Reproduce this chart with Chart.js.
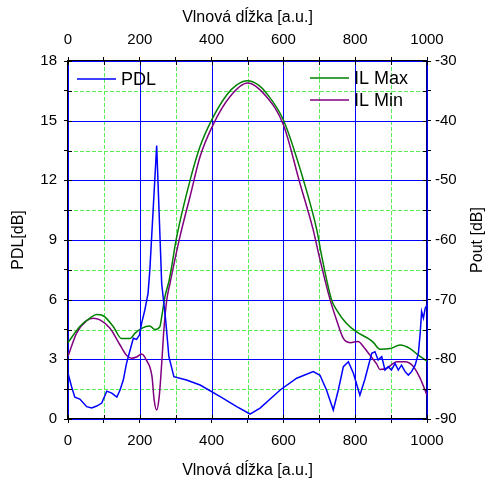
<!DOCTYPE html>
<html>
<head>
<meta charset="utf-8">
<script src="https://cdn.jsdelivr.net/npm/chart.js@4.4.0/dist/chart.umd.min.js"></script>
<style>
  html, body { margin: 0; padding: 0; background: #fff; }
  canvas { display: block; }
</style>
</head>
<body>
<canvas id="chart" width="487" height="481"></canvas>
<script>
// PDL [dB] (left axis)
const pdlX = [0, 10, 19, 33, 52, 66, 80, 94, 108, 122, 136, 145, 154, 163, 173, 182, 191, 199, 205, 214, 223, 228,
  247, 261, 272, 281, 295, 330, 368, 424, 470, 507, 535, 591, 637, 683, 702, 720, 739, 753, 767, 781, 795,
  813, 827, 846, 855, 864, 874, 883, 892, 901, 911, 920, 929, 939, 948, 957, 967, 976, 981, 985, 990, 995, 1000];
const pdlY = [2.3, 1.62, 1.1, 1.0, 0.62, 0.55, 0.65, 0.8, 1.4, 1.3, 1.1, 1.46, 1.96, 2.8, 3.47, 4.06, 4.0, 4.22, 4.81, 5.48, 6.32, 7.5,
  13.75, 6.8, 4.98, 3.13, 2.13, 1.96, 1.71, 1.12, 0.62, 0.25, 0.55, 1.46, 2.05, 2.38, 2.2, 1.46, 0.45, 1.46, 2.63, 2.88, 2.3,
  1.2, 2.0, 3.3, 3.38, 2.97, 3.13, 2.46, 2.63, 2.46, 2.8, 2.46, 2.71, 2.38, 2.21, 2.38, 2.71, 3.3, 4.31, 5.4, 5.07, 5.57, 5.73];

// IL Max, Pout [dB] (right axis)
const ilMaxX = [0, 33, 61, 80, 98, 126, 149, 173, 187, 205, 228, 242, 256, 261, 270, 282, 303, 340, 368, 400, 442, 470,
  500, 530, 553, 600, 656, 693, 707, 734, 748, 776, 804, 841, 851, 869, 897, 925, 953, 976, 1000];
const ilMaxY = [-77.2, -74.5, -73.1, -72.5, -72.7, -74.5, -76.5, -76.5, -75.6, -74.8, -74.4, -75.0, -74.5, -72.9, -69.5, -66.7, -59.4, -50.0, -44.3, -39.9, -35.7, -34.0,
  -33.3, -34.0, -35.4, -39.9, -50.0, -58.3, -62.8, -70.0, -71.7, -74.0, -75.4, -76.7, -77.2, -78.3, -78.2, -77.6, -78.2, -79.3, -80.3];

// IL Min, Pout [dB] (right axis)
const ilMinX = [0, 24, 52, 71, 89, 117, 145, 163, 177, 191, 205, 218, 234, 240, 247, 254, 261, 267, 275, 284, 312, 340, 368, 404,
  451, 500, 553, 600, 646, 683, 700, 730, 748, 767, 786, 808, 827, 841, 860, 869, 888, 916, 939, 962, 981, 1000];
const ilMinY = [-79.5, -75.6, -73.5, -73.1, -73.4, -74.8, -77.6, -79.3, -79.8, -79.6, -79.1, -80.1, -82.9, -86.8, -88.5, -86.3, -80.7, -75.1, -70.1, -67.3, -59.4, -52.7, -46.0, -40.7,
  -36.0, -33.7, -36.0, -40.7, -50.5, -58.3, -62.8, -70.0, -73.4, -76.5, -77.2, -77.0, -78.2, -79.3, -80.8, -81.7, -81.5, -80.4, -80.4, -81.2, -83.2, -86.0];

const seriesLabels = ['PDL', 'IL Max', 'IL Min'];
const seriesColors = ['#0000ff', '#008000', '#800080'];
const xTitle = 'Vlnová dĺžka [a.u.]';
const yTitle = 'PDL[dB]';
const y2Title = 'Pout [dB]';

const toPoints = (xs, ys) => xs.map((x, i) => ({x: x, y: ys[i]}));
const FAMILY = 'Liberation Sans, Arial, sans-serif';
const FONT = {family: FAMILY, size: 15};
const TITLE_FONT = {family: FAMILY, size: 16};

// grid lines drawn per tick: blue for labelled ticks, green dashed for the minor ones
const gridPlugin = {
  id: 'gridLines',
  beforeDatasetsDraw(chart) {
    const {ctx, chartArea: a, scales} = chart;
    ctx.save();
    ctx.lineWidth = 1;
    const vert = (s, major) => s.ticks.forEach(t => {
      if (t.major !== major) return;
      const p = Math.round(s.getPixelForValue(t.value)) + 0.5;
      ctx.beginPath(); ctx.moveTo(p, a.top); ctx.lineTo(p, a.bottom); ctx.stroke();
    });
    const horz = (s, major) => s.ticks.forEach(t => {
      if (t.major !== major) return;
      const p = Math.round(s.getPixelForValue(t.value)) + 0.5;
      ctx.beginPath(); ctx.moveTo(a.left, p); ctx.lineTo(a.right, p); ctx.stroke();
    });
    ctx.strokeStyle = '#55ee55';
    ctx.setLineDash([4, 2]);
    vert(scales.x, false); horz(scales.y, false);
    ctx.strokeStyle = '#0000ff';
    ctx.setLineDash([]);
    vert(scales.x, true); horz(scales.y, true);
    ctx.restore();
  },
  afterDraw(chart) {
    const {ctx, chartArea: a, scales} = chart;
    ctx.save();
    ctx.strokeStyle = '#000';
    ctx.lineWidth = 1;
    // inner halves of the tick marks
    scales.x.ticks.forEach(t => {
      const p = Math.round(scales.x.getPixelForValue(t.value)) + 0.5;
      ctx.beginPath(); ctx.moveTo(p, a.bottom); ctx.lineTo(p, a.bottom - 4); ctx.stroke();
      ctx.beginPath(); ctx.moveTo(p, a.top); ctx.lineTo(p, a.top + 4); ctx.stroke();
    });
    scales.y.ticks.forEach(t => {
      const p = Math.round(scales.y.getPixelForValue(t.value)) + 0.5;
      ctx.beginPath(); ctx.moveTo(a.left, p); ctx.lineTo(a.left + 4, p); ctx.stroke();
      ctx.beginPath(); ctx.moveTo(a.right, p); ctx.lineTo(a.right - 4, p); ctx.stroke();
    });
    // right axis title, read bottom to top like the left one
    ctx.fillStyle = '#000';
    ctx.font = TITLE_FONT.size + 'px ' + FAMILY;
    ctx.textAlign = 'center';
    ctx.textBaseline = 'middle';
    ctx.translate(scales.y2.right - 9, (a.top + a.bottom) / 2);
    ctx.rotate(-Math.PI / 2);
    ctx.fillText(y2Title, 0, 0);
    ctx.setTransform(1, 0, 0, 1, 0, 0);
    // legend
    ctx.font = '18px ' + FAMILY;
    ctx.textAlign = 'left';
    const entries = [
      {i: 0, x: a.left + 9, y: a.top + 18},
      {i: 1, x: a.right - 117, y: a.top + 17},
      {i: 2, x: a.right - 117, y: a.top + 39}
    ];
    entries.forEach(e => {
      const ds = chart.data.datasets[e.i];
      ctx.strokeStyle = ds.borderColor;
      ctx.lineWidth = 1.5;
      ctx.beginPath(); ctx.moveTo(e.x, e.y); ctx.lineTo(e.x + 39, e.y); ctx.stroke();
      ctx.fillStyle = '#000';
      ctx.fillText(ds.label, e.x + 44, e.y + 1);
    });
    ctx.restore();
  }
};

const majorOf = (step) => (scale) => {
  scale.ticks.forEach(t => { t.major = Math.abs(t.value / step - Math.round(t.value / step)) < 1e-6; });
};
const labelOf = (step) => function (v) {
  return Math.abs(v / step - Math.round(v / step)) < 1e-6 ? String(v) : '';
};

const xAxis = (pos, fitH, titlePad, tickPad) => ({
  type: 'linear', position: pos, min: 0, max: 1000,
  afterFit: s => { s.height = fitH; },
  afterTickToLabelConversion: majorOf(200),
  grid: {drawOnChartArea: false, tickLength: 4, tickColor: '#000', tickWidth: 1},
  border: {color: '#000', width: 1.5},
  ticks: {stepSize: 100, autoSkip: false, maxRotation: 0, padding: tickPad, color: '#000', font: FONT, callback: labelOf(200)},
  title: {display: true, text: xTitle, color: '#000', font: TITLE_FONT, padding: titlePad}
});

new Chart(document.getElementById('chart'), {
  type: 'line',
  data: {
    datasets: [
      {label: seriesLabels[0], data: toPoints(pdlX, pdlY), yAxisID: 'y', xAxisID: 'x',
        borderColor: seriesColors[0], borderWidth: 1.5, pointRadius: 0, tension: 0},
      {label: seriesLabels[1], data: toPoints(ilMaxX, ilMaxY), yAxisID: 'y2', xAxisID: 'x',
        borderColor: seriesColors[1], borderWidth: 1.5, pointRadius: 0, cubicInterpolationMode: 'monotone'},
      {label: seriesLabels[2], data: toPoints(ilMinX, ilMinY), yAxisID: 'y2', xAxisID: 'x',
        borderColor: seriesColors[2], borderWidth: 1.5, pointRadius: 0, cubicInterpolationMode: 'monotone'}
    ]
  },
  options: {
    responsive: false,
    animation: false,
    events: [],
    layout: {padding: 0},
    plugins: {legend: {display: false}, tooltip: {enabled: false}},
    scales: {
      x: xAxis('bottom', 62, {top: 8, bottom: 1}, 9),
      x2: xAxis('top', 61, {top: 8, bottom: 2}, 8),
      y: {
        type: 'linear', position: 'left', min: 0, max: 18,
        afterFit: s => { s.width = 68; },
        afterTickToLabelConversion: majorOf(3),
        grid: {drawOnChartArea: false, tickLength: 4, tickColor: '#000', tickWidth: 1},
        border: {color: '#000', width: 1.5},
        ticks: {stepSize: 1.5, autoSkip: false, padding: 7, color: '#000', font: FONT, callback: labelOf(3)},
        title: {display: true, text: yTitle, color: '#000', font: TITLE_FONT, padding: {top: 9, bottom: 0}}
      },
      y2: {
        type: 'linear', position: 'right', min: -90, max: -30,
        afterFit: s => { s.width = 60; },
        grid: {drawOnChartArea: false, tickLength: 4, tickColor: '#000', tickWidth: 1},
        border: {color: '#000080', width: 2},
        ticks: {stepSize: 5, autoSkip: false, padding: 4, color: '#000', font: FONT, callback: labelOf(10)},
        title: {display: false, text: y2Title}
      }
    }
  },
  plugins: [gridPlugin]
});
</script>
</body>
</html>
